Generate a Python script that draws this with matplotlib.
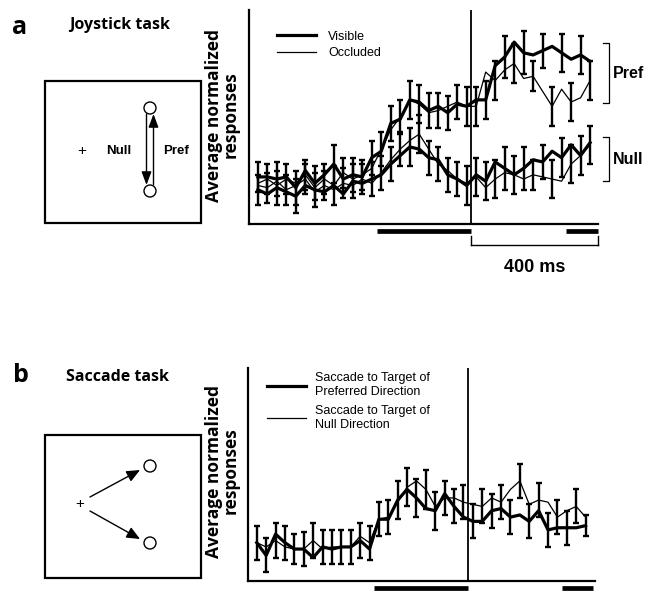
import numpy as np
import matplotlib
matplotlib.use("Agg")
import matplotlib.pyplot as plt
from matplotlib.patches import Rectangle, Circle, FancyArrowPatch

# ---------------- data ----------------
t_ms = np.arange(-675, 376, 30)  # bin centres, ms relative to vertical line

# Panel a (joystick task)
pref_visible = [0.22,0.22,0.21,0.22,0.17,0.25,0.19,0.23,0.28,0.21,0.23,0.22,0.31,0.34,0.47,0.49,0.58,0.57,
                0.53,0.55,0.52,0.56,0.55,0.58,0.58,0.74,0.78,0.85,0.80,0.79,0.81,0.83,0.80,0.77,0.79,0.76]
pref_occluded = [0.19,0.21,0.18,0.21,0.19,0.23,0.17,0.21,0.18,0.24,0.21,0.23,0.26,0.35,0.44,0.50,0.58,0.56,
                 0.52,0.53,0.55,0.57,0.55,0.55,0.71,0.67,0.72,0.75,0.68,0.69,0.62,0.55,0.63,0.57,0.59,0.67]
null_visible = [0.16,0.14,0.17,0.15,0.13,0.18,0.16,0.15,0.18,0.14,0.20,0.19,0.21,0.23,0.28,0.32,0.36,0.35,
                0.31,0.30,0.23,0.21,0.18,0.23,0.20,0.29,0.26,0.23,0.26,0.30,0.29,0.34,0.31,0.37,0.32,0.38]
null_occluded = [0.18,0.17,0.20,0.16,0.18,0.21,0.15,0.18,0.16,0.19,0.18,0.21,0.19,0.24,0.30,0.35,0.39,0.42,
                 0.35,0.28,0.25,0.21,0.19,0.22,0.17,0.21,0.24,0.23,0.21,0.23,0.22,0.21,0.20,0.28,0.32,0.37]
err_a = [0.07,0.07,0.08,0.07,0.08,0.07,0.08,0.07,0.09,0.07,0.08,0.07,0.08,0.08,0.08,0.08,0.09,0.09,
         0.08,0.08,0.08,0.08,0.09,0.09,0.09,0.09,0.10,0.09,0.10,0.07,0.08,0.09,0.09,0.09,0.09,0.09]

# Panel b (saccade task)
sacc_pref = [0.18,0.12,0.22,0.18,0.15,0.15,0.11,0.16,0.15,0.16,0.16,0.19,0.15,0.29,0.29,0.38,0.43,0.39,
             0.34,0.33,0.41,0.35,0.30,0.28,0.28,0.33,0.34,0.30,0.31,0.28,0.33,0.24,0.25,0.25,0.25,0.26]
sacc_null = [0.18,0.16,0.19,0.16,0.15,0.15,0.19,0.15,0.16,0.16,0.16,0.21,0.18,0.29,0.30,0.37,0.44,0.47,
             0.43,0.35,0.39,0.39,0.37,0.36,0.35,0.39,0.37,0.43,0.47,0.36,0.38,0.37,0.30,0.33,0.35,0.30]
err_b = [0.08,0.08,0.08,0.08,0.07,0.08,0.08,0.08,0.08,0.08,0.08,0.08,0.08,0.08,0.08,0.09,0.09,0.09,
         0.09,0.09,0.08,0.08,0.08,0.08,0.08,0.08,0.08,0.08,0.08,0.08,0.08,0.08,0.08,0.08,0.08,0.05]

period_bars = [(-300, 0), (300, 400)]
scale_ms = 400

# ---------------- figure ----------------
W, H = 653, 592
fig = plt.figure(figsize=(W/100, H/100), dpi=100)
plt.rcParams['font.family'] = ['Liberation Sans', 'DejaVu Sans']

THICK, THIN = 2.3, 0.9

def setup_axes(rect, xlim):
    ax = fig.add_axes(rect)
    ax.set_xlim(*xlim)
    ax.set_ylim(0, 1)
    for s in ['top', 'right']:
        ax.spines[s].set_visible(False)
    for s in ['left', 'bottom']:
        ax.spines[s].set_linewidth(1.6)
    ax.set_xticks([]); ax.set_yticks([])
    ax.patch.set_alpha(0)
    ax.axvline(0, color='black', lw=1.3)
    for a, b in period_bars:
        ax.plot([a, b], [-0.035, -0.035], color='black', lw=3.4,
                solid_capstyle='butt', clip_on=False, transform=ax.get_xaxis_transform())
    return ax

def series(ax, y, err, lw, idx):
    y = np.asarray(y); e = np.asarray(err)
    ax.plot(t_ms, y, color='black', lw=lw, zorder=3)
    sel = np.zeros(len(y), bool); sel[idx::2] = True
    ax.errorbar(t_ms[sel], y[sel], yerr=e[sel], fmt='none', ecolor='black',
                elinewidth=1.7, capsize=2.5, capthick=1.7, zorder=4)

# Panel a axes
axa = setup_axes([249/W, 1-224/H, 349/W, 214/H], (-703, 400))
series(axa, pref_visible, err_a, THICK, 0)
series(axa, pref_occluded, err_a, THIN, 1)
series(axa, null_visible, err_a, THICK, 0)
series(axa, null_occluded, err_a, THIN, 1)
axa.legend(handles=[plt.Line2D([], [], color='black', lw=THICK, label='Visible'),
                    plt.Line2D([], [], color='black', lw=THIN, label='Occluded')],
           loc='upper left', bbox_to_anchor=(0.055, 0.945), frameon=False, fontsize=9,
           handlelength=3.1, handletextpad=1.0, labelspacing=0.35, borderpad=0.2)
# scale bar
axa.plot([0, scale_ms], [-0.1, -0.1], color='black', lw=1.0, clip_on=False,
         transform=axa.get_xaxis_transform())
for xx in (0, scale_ms):
    axa.plot([xx, xx], [-0.1, -0.055], color='black', lw=1.0, clip_on=False,
             transform=axa.get_xaxis_transform())
axa.text(scale_ms/2, -0.205, f'{scale_ms} ms', ha='center', va='center', fontsize=13,
         fontweight='bold', transform=axa.get_xaxis_transform())

# Panel b axes
axb = setup_axes([248/W, 1-581/H, 347/W, 213/H], (-703, 405))
series(axb, sacc_pref, err_b, THICK, 1)
series(axb, sacc_null, err_b, THIN, 0)
axb.legend(handles=[plt.Line2D([], [], color='black', lw=THICK, label='Saccade to Target of\nPreferred Direction'),
                    plt.Line2D([], [], color='black', lw=THIN, label='Saccade to Target of\nNull Direction')],
           loc='upper left', bbox_to_anchor=(0.03, 1.02), frameon=False, fontsize=9,
           handlelength=3.1, handletextpad=0.7, labelspacing=0.55, borderpad=0.2)

# ---------------- overlay (diagrams and labels) ----------------
ov = fig.add_axes([0, 0, 1, 1], zorder=-1)
ov.set_xlim(0, W); ov.set_ylim(H, 0); ov.axis('off')

head_font = ['Open Sans', 'DejaVu Sans']
ov.text(20, 27, 'a', fontsize=18, fontweight='bold', ha='center', va='center', family=head_font)
ov.text(69, 25, 'Joystick task', fontsize=11.5, fontweight='bold', ha='left', va='center', family=head_font)
ov.text(21, 376, 'b', fontsize=18, fontweight='bold', ha='center', va='center', family=head_font)
ov.text(66, 377, 'Saccade task', fontsize=11.5, fontweight='bold', ha='left', va='center', family=head_font)

for cy in (115, 471):
    ov.text(222, cy, 'Average normalized\nresponses', rotation=90, fontsize=12.5, fontweight='bold',
            ha='center', va='center', linespacing=0.9, family=head_font)

# box a
ov.add_patch(Rectangle((45, 81), 156, 142, fill=False, lw=1.6, ec='black'))
ov.add_patch(Circle((150, 108), 6, fill=True, fc='white', ec='black', lw=1.0, zorder=3))
ov.add_patch(Circle((150, 191), 6, fill=True, fc='white', ec='black', lw=1.0, zorder=3))
ov.add_patch(FancyArrowPatch((146.5, 114), (146.5, 185), arrowstyle='-|>,head_length=8,head_width=3',
                             lw=1.0, color='black', shrinkA=0, shrinkB=0))
ov.add_patch(FancyArrowPatch((153.5, 185), (153.5, 114), arrowstyle='-|>,head_length=8,head_width=3',
                             lw=1.0, color='black', shrinkA=0, shrinkB=0))
ov.text(82, 151, '+', fontsize=11, ha='center', va='center')
ov.text(119, 151, 'Null', fontsize=9.5, fontweight='bold', ha='center', va='center')
ov.text(176, 151, 'Pref', fontsize=9.5, fontweight='bold', ha='center', va='center')

# box b
ov.add_patch(Rectangle((45, 435), 156, 143, fill=False, lw=1.6, ec='black'))
ov.add_patch(Circle((150, 466), 6, fill=True, fc='white', ec='black', lw=1.0, zorder=3))
ov.add_patch(Circle((150, 543), 6, fill=True, fc='white', ec='black', lw=1.0, zorder=3))
ov.add_patch(FancyArrowPatch((90, 497), (140, 470), arrowstyle='-|>,head_length=8,head_width=3.5',
                             lw=1.0, color='black', shrinkA=0, shrinkB=0))
ov.add_patch(FancyArrowPatch((90, 511), (140, 539), arrowstyle='-|>,head_length=8,head_width=3.5',
                             lw=1.0, color='black', shrinkA=0, shrinkB=0))
ov.text(80, 504, '+', fontsize=11, ha='center', va='center')

# group brackets (panel a)
for (y0, y1, lab) in [(43, 103, 'Pref'), (137, 181, 'Null')]:
    ov.plot([603, 609, 609, 603], [y0, y0, y1, y1], color='black', lw=0.9)
    ov.text(613, (y0 + y1) / 2, lab, fontsize=11.5, fontweight='bold', ha='left', va='center')

fig.savefig('out.png', dpi=100)
